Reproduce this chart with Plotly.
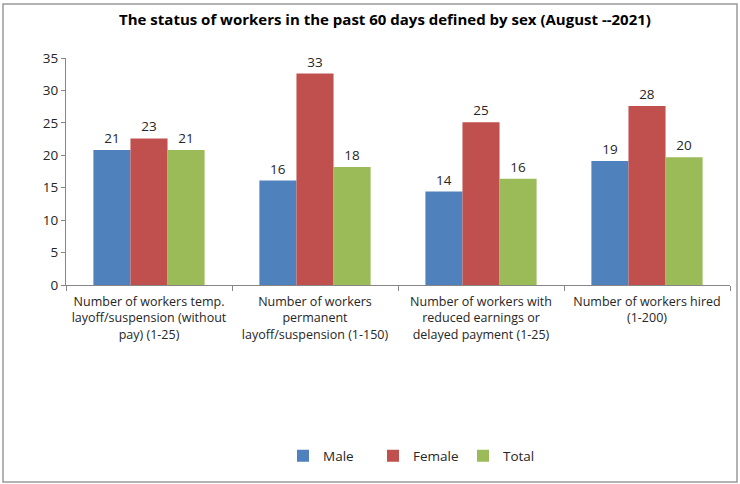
import plotly.graph_objects as go

categories = [
    "Number of workers temp.<br>layoff/suspension (without<br>pay) (1-25)",
    "Number of workers<br>permanent<br>layoff/suspension (1-150)",
    "Number of workers with<br>reduced earnings or<br>delayed payment (1-25)",
    "Number of workers hired<br>(1-200)",
]
male = [20.8, 16.1, 14.4, 19.1]
female = [22.6, 32.6, 25.1, 27.6]
total = [20.8, 18.2, 16.4, 19.7]
y_ticks = [0, 5, 10, 15, 20, 25, 30, 35]

FONT = "Open Sans"
TEXT_COLOR = "#262626"

fig = go.Figure()
for name, vals, color in [
    ("Male", male, "#4F81BD"),
    ("Female", female, "#C0504D"),
    ("Total", total, "#9BBB59"),
]:
    fig.add_trace(go.Bar(
        name=name, x=categories, y=vals,
        marker=dict(color=color, line=dict(width=0)),
        texttemplate="%{y:.0f}", textposition="outside",
        textfont=dict(family=FONT, size=13.5, color=TEXT_COLOR),
        cliponaxis=False,
    ))

# plot area spans x 66..730, y 58..285 in pixels
L, R, T, B = 66, 10, 58, 199
W, H = 740, 484
pw, ph = W - L - R, H - T - B

def px_x(x):
    return (x - L) / pw

def px_y(y):
    return (H - B - y) / ph

fig.update_layout(
    width=W, height=H,
    margin=dict(l=L, r=R, t=T, b=B, autoexpand=False),
    paper_bgcolor="white", plot_bgcolor="white",
    barmode="group", bargap=0.33, bargroupgap=0,
    font=dict(family=FONT, size=12, color=TEXT_COLOR),
    title=dict(
        text="<b>The status of workers in the past 60 days defined by sex (August --2021)</b>",
        x=385 / W, xanchor="center", y=1 - 20 / H, yanchor="middle",
        font=dict(family=FONT, size=15, color="black"),
    ),
    showlegend=True,
    legend=dict(
        orientation="h", x=px_x(418), xanchor="center",
        y=px_y(456), yanchor="middle",
        entrywidth=45, font=dict(family=FONT, size=13.5, color=TEXT_COLOR),
        itemwidth=30,
    ),
    xaxis=dict(
        showline=True, linecolor="#868686", linewidth=1,
        ticks="outside", tickson="boundaries", ticklen=5, tickcolor="#868686",
        showgrid=False, ticklabelstandoff=5, tickangle=0, automargin=False,
        tickfont=dict(family=FONT, size=12.5, color=TEXT_COLOR),
    ),
    yaxis=dict(
        range=[0, 35], tickvals=y_ticks, showline=True, linecolor="#868686",
        linewidth=1, ticks="outside", ticklen=4, tickcolor="#868686",
        showgrid=False, zeroline=False, automargin=False,
        tickfont=dict(family=FONT, size=13.5, color=TEXT_COLOR),
    ),
    shapes=[dict(
        type="rect", xref="paper", yref="paper",
        x0=px_x(3), x1=px_x(737), y0=px_y(482), y1=px_y(4),
        line=dict(color="#9a9a9a", width=1.5), fillcolor="rgba(0,0,0,0)",
        layer="below",
    )],
)

fig.write_html("out.html")
